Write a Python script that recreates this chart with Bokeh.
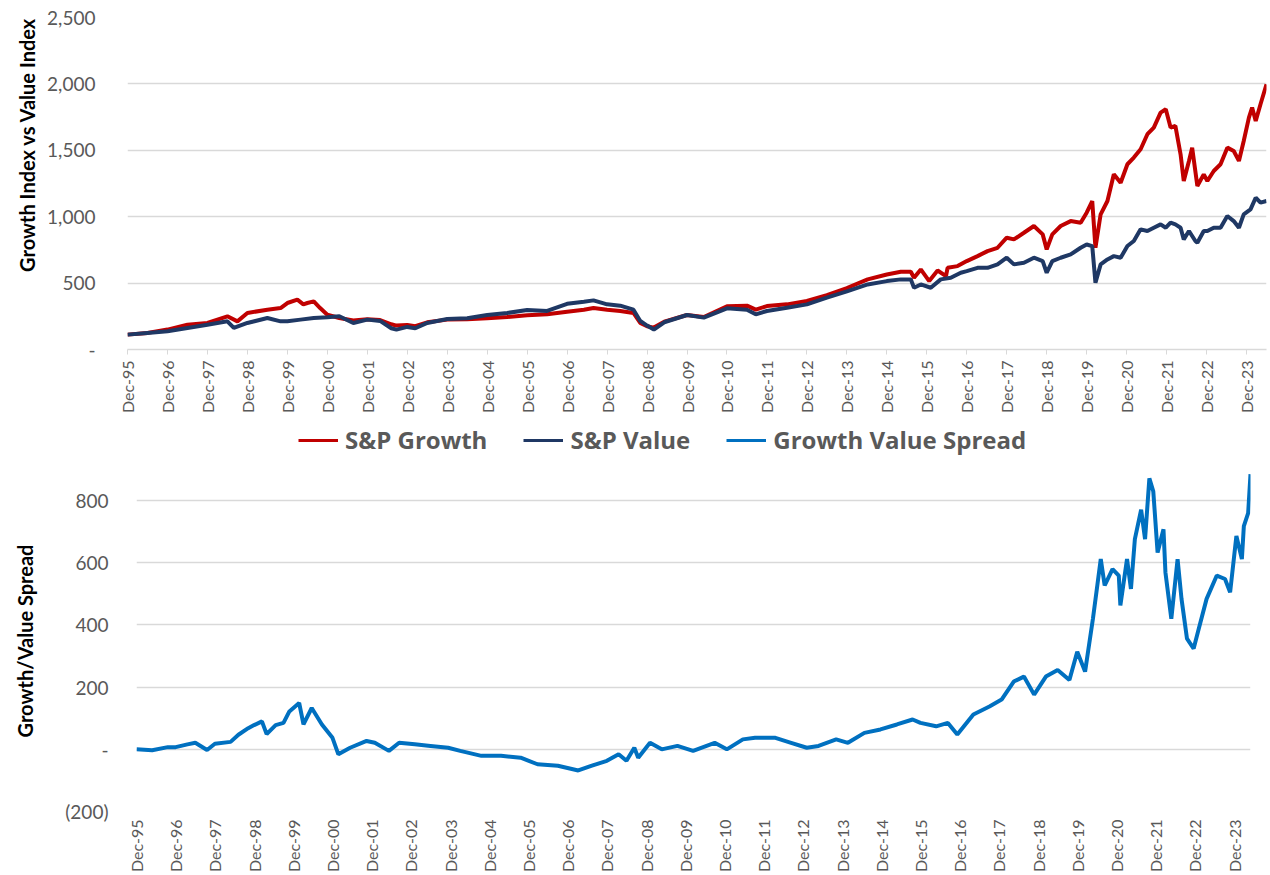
from math import pi
from bokeh.plotting import figure
from bokeh.models import Range1d, FixedTicker, Legend, LegendItem, Title
from bokeh.embed import file_html
from bokeh.resources import INLINE

# ---------------- data (decimal year, value) ----------------
growth_year = [1996.00, 1996.50, 1997.00, 1997.50, 1998.00, 1998.50, 1998.75, 1999.00, 1999.50, 1999.83,
               2000.00, 2000.25, 2000.40, 2000.50, 2000.66, 2000.82, 2001.00, 2001.30, 2001.65, 2002.00,
               2002.32, 2002.60, 2002.73, 2003.00, 2003.20, 2003.50, 2004.00, 2004.50, 2005.00, 2005.50,
               2006.00, 2006.50, 2007.00, 2007.42, 2007.66, 2008.00, 2008.33, 2008.66, 2008.83, 2009.00,
               2009.17, 2009.43, 2010.00, 2010.42, 2011.00, 2011.50, 2011.72, 2012.00, 2012.50, 2013.00,
               2013.50, 2014.00, 2014.52, 2015.00, 2015.35, 2015.60, 2015.68, 2015.85, 2016.06, 2016.27,
               2016.48, 2016.52, 2016.77, 2017.00, 2017.27, 2017.52, 2017.77, 2018.00, 2018.18, 2018.43,
               2018.68, 2018.90, 2019.00, 2019.14, 2019.35, 2019.60, 2019.85, 2020.00, 2020.14, 2020.22,
               2020.35, 2020.52, 2020.68, 2020.85, 2021.02, 2021.18, 2021.35, 2021.52, 2021.68, 2021.85,
               2021.98, 2022.10, 2022.22, 2022.35, 2022.43, 2022.56, 2022.64, 2022.77, 2022.93, 2023.02,
               2023.18, 2023.35, 2023.52, 2023.68, 2023.81, 2023.93, 2024.06, 2024.14, 2024.23, 2024.35,
               2024.50]
growth_val = [112, 125, 150, 187, 200, 250, 212, 275, 300, 312,
              350, 375, 340, 350, 362, 312, 262, 237, 218, 228,
              222, 190, 180, 185, 175, 205, 225, 228, 235, 245,
              258, 265, 285, 300, 312, 300, 290, 275, 200, 175,
              165, 210, 260, 245, 325, 330, 300, 327, 340, 365,
              410, 463, 528, 565, 585, 585, 540, 603, 515, 595,
              553, 615, 628, 666, 703, 741, 766, 842, 829, 879,
              930, 867, 754, 867, 930, 967, 955, 1030, 1118, 766,
              1018, 1118, 1319, 1256, 1395, 1445, 1508, 1621, 1671, 1784,
              1809, 1671, 1684, 1470, 1269, 1420, 1520, 1231, 1319, 1269,
              1344, 1395, 1520, 1495, 1420, 1570, 1746, 1822, 1721, 1847,
              1997]

value_year = [1996.00, 1996.50, 1997.00, 1997.50, 1998.00, 1998.50, 1998.66, 1999.00, 1999.50, 1999.83,
              2000.00, 2000.33, 2000.66, 2001.00, 2001.30, 2001.65, 2002.00, 2002.32, 2002.60, 2002.73,
              2003.00, 2003.20, 2003.50, 2004.00, 2004.50, 2005.00, 2005.50, 2006.00, 2006.50, 2007.00,
              2007.42, 2007.66, 2008.00, 2008.33, 2008.66, 2008.83, 2009.00, 2009.17, 2009.43, 2010.00,
              2010.42, 2011.00, 2011.50, 2011.72, 2012.00, 2012.50, 2013.00, 2013.50, 2014.00, 2014.52,
              2015.00, 2015.35, 2015.60, 2015.68, 2015.85, 2016.10, 2016.35, 2016.60, 2016.85, 2017.00,
              2017.27, 2017.52, 2017.77, 2018.00, 2018.18, 2018.43, 2018.68, 2018.90, 2019.00, 2019.14,
              2019.35, 2019.60, 2019.85, 2020.00, 2020.14, 2020.22, 2020.35, 2020.52, 2020.68, 2020.85,
              2021.02, 2021.18, 2021.35, 2021.52, 2021.68, 2021.85, 2021.98, 2022.10, 2022.22, 2022.35,
              2022.43, 2022.56, 2022.72, 2022.77, 2022.93, 2023.02, 2023.18, 2023.35, 2023.52, 2023.68,
              2023.81, 2023.93, 2024.10, 2024.23, 2024.35, 2024.50]
value_val = [112, 125, 137, 162, 187, 212, 162, 200, 237, 212,
             212, 225, 237, 242, 250, 200, 225, 215, 160, 150,
             170, 160, 200, 230, 235, 260, 275, 297, 290, 344,
             360, 370, 340, 330, 300, 215, 180, 150, 205, 260,
             240, 310, 300, 265, 290, 315, 340, 390, 438, 490,
             515, 528, 528, 465, 490, 465, 528, 540, 578, 590,
             615, 615, 641, 691, 641, 653, 691, 666, 578, 666,
             691, 716, 766, 791, 779, 503, 641, 678, 703, 691,
             779, 817, 905, 892, 917, 942, 917, 955, 942, 917,
             829, 892, 817, 804, 892, 892, 917, 917, 1005, 967,
             917, 1018, 1055, 1143, 1106, 1118]

spread_year = [1996.00, 1996.40, 1996.80, 1997.00, 1997.30, 1997.50, 1997.80, 1998.00, 1998.40, 1998.60,
               1998.85, 1999.00, 1999.20, 1999.32, 1999.55, 1999.75, 1999.90, 2000.15, 2000.26, 2000.47,
               2000.73, 2001.00, 2001.15, 2001.45, 2001.87, 2002.08, 2002.44, 2002.70, 2003.10, 2003.50,
               2003.95, 2004.26, 2004.80, 2005.30, 2005.80, 2006.23, 2006.75, 2007.27, 2007.60, 2008.00,
               2008.30, 2008.50, 2008.70, 2008.80, 2009.10, 2009.40, 2009.80, 2010.20, 2010.75, 2011.06,
               2011.47, 2011.78, 2012.30, 2012.70, 2013.10, 2013.40, 2013.85, 2014.15, 2014.57, 2014.98,
               2015.40, 2015.80, 2016.00, 2016.40, 2016.70, 2016.94, 2017.35, 2017.76, 2018.07, 2018.38,
               2018.64, 2018.90, 2019.20, 2019.50, 2019.80, 2020.00, 2020.20, 2020.40, 2020.50, 2020.60,
               2020.70, 2020.90, 2021.06, 2021.10, 2021.27, 2021.37, 2021.47, 2021.63, 2021.73, 2021.84,
               2021.94, 2022.05, 2022.20, 2022.25, 2022.40, 2022.56, 2022.66, 2022.80, 2022.97, 2023.10,
               2023.30, 2023.56, 2023.77, 2023.90, 2024.06, 2024.20, 2024.25, 2024.36, 2024.42]
spread_val = [0, -3, 7, 7, 16, 21, -2, 18, 24, 47,
              68, 78, 90, 49, 78, 85, 122, 149, 80, 133,
              80, 37, -16, 5, 27, 21, -5, 21, 16, 11,
              5, -5, -21, -21, -27, -48, -53, -68, -53, -37,
              -16, -37, 5, -27, 21, 0, 11, -5, 21, 0,
              32, 37, 37, 21, 5, 11, 32, 21, 53, 64,
              80, 96, 85, 74, 85, 48, 112, 138, 160, 218,
              234, 176, 234, 255, 223, 314, 250, 420, 516, 612,
              527, 580, 559, 463, 612, 516, 676, 771, 676, 872,
              830, 633, 708, 569, 420, 612, 484, 356, 324, 388,
              484, 559, 548, 505, 686, 612, 718, 760, 885]

tick_years = list(range(1996, 2025))
tick_labels = ["Dec-%02d" % ((y - 1) % 100) for y in tick_years]
top_yticks = [0, 500, 1000, 1500, 2000, 2500]
top_ylabels = ["-", "500", "1,000", "1,500", "2,000", "2,500"]
bot_yticks = [-200, 0, 200, 400, 600, 800]
bot_ylabels = ["(200)", "-", "200", "400", "600", "800"]
legend_labels = ["S&P Growth", "S&P Value", "Growth Value Spread"]

RED = "#C00000"
NAVY = "#1F3864"
BLUE = "#0070C0"
GRID = "#D9D9D9"
TXT = "#595959"
FONT = "Lato"


def style(p, yticks, ylabels, ystand):
    p.outline_line_color = None
    p.xgrid.visible = False
    p.ygrid.grid_line_color = GRID
    p.ygrid.grid_line_width = 1.3
    p.ygrid.ticker = FixedTicker(ticks=yticks)
    xa = p.xaxis[0]
    xa.ticker = FixedTicker(ticks=tick_years)
    xa.major_label_overrides = {y: l for y, l in zip(tick_years, tick_labels)}
    xa.major_label_orientation = pi / 2
    xa.major_label_text_font = FONT
    xa.major_label_text_font_size = "16px"
    xa.major_label_text_color = TXT
    xa.minor_tick_line_color = None
    xa.axis_line_color = GRID
    xa.axis_line_width = 1.3
    ya = p.yaxis[0]
    ya.ticker = FixedTicker(ticks=yticks)
    ya.major_label_overrides = {t: l for t, l in zip(yticks, ylabels)}
    ya.major_label_text_font = FONT
    ya.major_label_text_font_size = "19px"
    ya.major_label_text_color = TXT
    ya.major_label_standoff = ystand
    ya.axis_line_color = None
    ya.major_tick_line_color = None
    ya.minor_tick_line_color = None


# ---------------- top chart (page y 0..421) ----------------
top = figure(width=1270, height=421, output_backend="svg", toolbar_location=None,
             x_range=Range1d(1996.0, 2024.5), y_range=Range1d(0, 2500),
             min_border_left=127, min_border_right=4, min_border_top=17, min_border_bottom=72)
top.line(growth_year, growth_val, line_color=RED, line_width=4)
top.line(value_year, value_val, line_color=NAVY, line_width=4)
style(top, top_yticks, top_ylabels, 26)
top.xaxis[0].major_tick_line_color = GRID
top.xaxis[0].major_tick_out = 5
top.xaxis[0].major_tick_in = 0
top.xaxis[0].major_label_standoff = 6
top.add_layout(Title(text="Growth Index vs Value Index", align="right",
                     text_font=FONT, text_font_size="20px", text_font_style="bold",
                     text_color="#000000", standoff=12), "left")

# ---------------- legend strip (page y 421..459) ----------------
leg = figure(width=1270, height=38, output_backend="svg", toolbar_location=None,
             x_axis_type=None, y_axis_type=None,
             x_range=Range1d(0, 1), y_range=Range1d(0, 1),
             min_border=0, outline_line_color=None)
r1 = leg.line([-5, -4], [-5, -4], line_color=RED, line_width=3)
r2 = leg.line([-5, -4], [-5, -4], line_color=NAVY, line_width=3)
r3 = leg.line([-5, -4], [-5, -4], line_color=BLUE, line_width=3)
legend = Legend(items=[LegendItem(label=legend_labels[0], renderers=[r1]),
                       LegendItem(label=legend_labels[1], renderers=[r2]),
                       LegendItem(label=legend_labels[2], renderers=[r3])],
                orientation="horizontal", location=(298, 3),
                label_text_font="Open Sans", label_text_font_size="24px",
                label_text_font_style="bold", label_text_color=TXT,
                glyph_width=40, glyph_height=30, label_height=30, label_standoff=7,
                spacing=36, padding=0, margin=0,
                border_line_color=None, background_fill_alpha=0)
leg.add_layout(legend, "center")

# ---------------- bottom chart (page y 459..875) ----------------
bot = figure(width=1270, height=416, output_backend="svg", toolbar_location=None,
             x_range=Range1d(1996.0, 2024.42), y_range=Range1d(-200, 897),
             min_border_left=136, min_border_right=20, min_border_top=11, min_border_bottom=62)
bot.line(spread_year, spread_val, line_color=BLUE, line_width=4)
style(bot, bot_yticks, bot_ylabels, 22)
bot.yaxis[0].axis_label = "Growth/Value Spread"
bot.yaxis[0].axis_label_text_font = FONT
bot.yaxis[0].axis_label_text_font_size = "20px"
bot.yaxis[0].axis_label_text_font_style = "bold"
bot.yaxis[0].axis_label_text_color = "#000000"
bot.yaxis[0].axis_label_standoff = 25
bot.xaxis[0].major_tick_line_color = None
bot.xaxis[0].major_tick_out = 0
bot.xaxis[0].major_tick_in = 0
bot.xaxis[0].major_label_standoff = 8
bot.xaxis[0].axis_line_color = None

open("out.html", "w").write(file_html([top, leg, bot], INLINE))
